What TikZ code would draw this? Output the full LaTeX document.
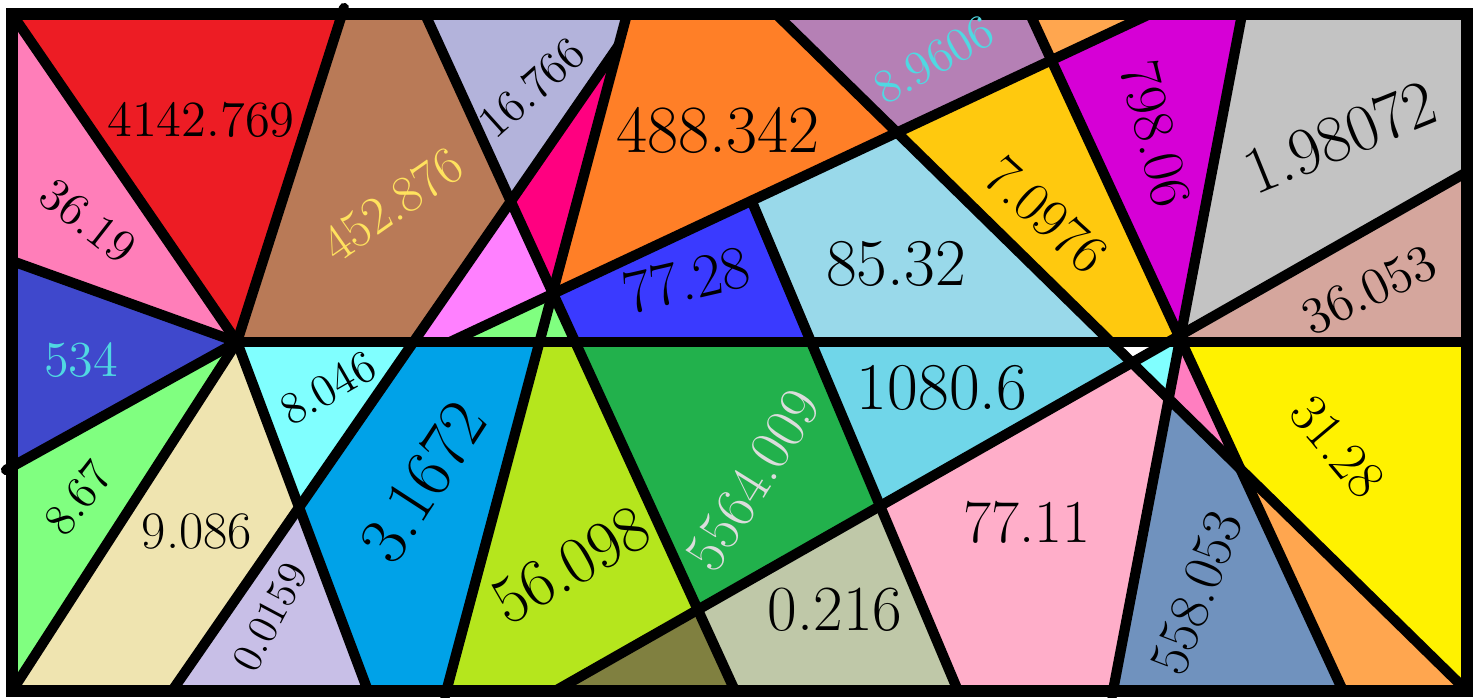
\documentclass[tikz,border=0pt]{standalone}
\usepackage{fontspec}

\definecolor{redA}{HTML}{ED1C24}
\definecolor{pinkA}{HTML}{FF7EB9}
\definecolor{blueA}{HTML}{3F48CC}
\definecolor{greenA}{HTML}{80FF80}
\definecolor{beige}{HTML}{EFE4B0}
\definecolor{cyanA}{HTML}{80FFFF}
\definecolor{lavB}{HTML}{C8BFE7}
\definecolor{blueB}{HTML}{00A2E8}
\definecolor{brown}{HTML}{B97A57}
\definecolor{lavA}{HTML}{B3B3DB}
\definecolor{hotpink}{HTML}{FF0080}
\definecolor{lmag}{HTML}{FF80FF}
\definecolor{orangeA}{HTML}{FF7F27}
\definecolor{blueC}{HTML}{3A3AFF}
\definecolor{lblue}{HTML}{99D9EA}
\definecolor{purpleA}{HTML}{B580B5}
\definecolor{lorange}{HTML}{FFA64F}
\definecolor{magentaA}{HTML}{D600D6}
\definecolor{gold}{HTML}{FFC90E}
\definecolor{grayA}{HTML}{C3C3C3}
\definecolor{rose}{HTML}{D5A69D}
\definecolor{lime}{HTML}{B5E61D}
\definecolor{greenB}{HTML}{22B14C}
\definecolor{olive}{HTML}{808040}
\definecolor{sage}{HTML}{BFC8A8}
\definecolor{sky}{HTML}{70D6E9}
\definecolor{pinkB}{HTML}{FF7EC0}
\definecolor{pinkC}{HTML}{FFAEC9}
\definecolor{slate}{HTML}{7092BE}
\definecolor{yellowA}{HTML}{FFF200}
\definecolor{txtcyan}{HTML}{50D8E2}
\definecolor{txtyellow}{HTML}{FFE25E}
\definecolor{txtgray}{HTML}{DCDCDC}

\newcommand{\lblsize}[1]{\fontsize{#1}{#1}\selectfont}

\begin{document}
\begin{tikzpicture}[x=0.01cm,y=-0.01cm,
    edge/.style={line width=2.9pt,line cap=round},
    num/.style={inner sep=0pt}]
    \useasboundingbox (0,0) rectangle (1480,698);

    % Frame and line ends
    \coordinate (TL) at (12,14);
    \coordinate (TR) at (1467,14);
    \coordinate (BL) at (12,691);
    \coordinate (BR) at (1467,691);
    \coordinate (Mr) at (1467,342);
    \coordinate (P1) at (237,342);
    \coordinate (L2t) at (344,8);
    \coordinate (L3l) at (12,261);
    \coordinate (L4l) at (6,470);
    \coordinate (L6b) at (368,691);
    \coordinate (At) at (425,14);
    \coordinate (Ab) at (735,691);
    \coordinate (Bt) at (619,45);
    \coordinate (Bb) at (172,691);
    \coordinate (Ct) at (627,14);
    \coordinate (Cb) at (445,696);
    \coordinate (Dl) at (450,342);
    \coordinate (Dt) at (1150,14);
    \coordinate (Et) at (751.5,200.7);
    \coordinate (Eb) at (958,691);
    \coordinate (Ft) at (776,14);
    \coordinate (Gt) at (1030,14);
    \coordinate (Gb) at (1343,691);
    \coordinate (Kt) at (1242,14);
    \coordinate (Kb) at (1112,696);
    \coordinate (Ir) at (1467,172);
    \coordinate (Ib) at (555,691);

    % Crossings
    \coordinate (P2) at (552,293);
    \coordinate (P3) at (1180.1,338.7);
    \coordinate (X1) at (510.7,201.1);
    \coordinate (BM) at (413.4,342);
    \coordinate (B6) at (299.1,507.4);
    \coordinate (CM) at (538.8,342);
    \coordinate (AM) at (575.2,342);
    \coordinate (AI) at (697.9,609.7);
    \coordinate (EM) at (811,342);
    \coordinate (EI) at (880,506);
    \coordinate (DF) at (897,132.5);
    \coordinate (DG) at (1051.4,60.2);
    \coordinate (FM) at (1110.8,342);
    \coordinate (IM) at (1168.3,342);
    \coordinate (FI) at (1131.9,362.7);
    \coordinate (MK) at (1179.5,342);
    \coordinate (GM) at (1181.6,342);
    \coordinate (FK) at (1168.7,398.7);
    \coordinate (FG) at (1240.3,468.9);

    % Regions
    \fill[redA] (TL) -- (L2t) -- (P1) -- cycle;
    \fill[pinkA] (TL) -- (P1) -- (L3l) -- cycle;
    \fill[blueA] (L3l) -- (P1) -- (L4l) -- cycle;
    \fill[greenA] (L4l) -- (P1) -- (BL) -- cycle;
    \fill[beige] (P1) -- (B6) -- (Bb) -- (BL) -- cycle;
    \fill[cyanA] (P1) -- (BM) -- (B6) -- cycle;
    \fill[lavB] (B6) -- (L6b) -- (Bb) -- cycle;
    \fill[blueB] (BM) -- (CM) -- (Cb) -- (L6b) -- (B6) -- cycle;
    \fill[brown] (L2t) -- (At) -- (X1) -- (BM) -- (P1) -- cycle;
    \fill[lavA] (At) -- (Ct) -- (Bt) -- (X1) -- cycle;
    \fill[hotpink] (Bt) -- (P2) -- (X1) -- cycle;
    \fill[lmag] (X1) -- (P2) -- (Dl) -- (BM) -- cycle;
    \fill[greenA] (Dl) -- (P2) -- (AM) -- cycle;
    \fill[orangeA] (Ct) -- (Ft) -- (DF) -- (P2) -- cycle;
    \fill[blueC] (P2) -- (Et) -- (EM) -- (AM) -- cycle;
    \fill[lblue] (Et) -- (DF) -- (FM) -- (EM) -- cycle;
    \fill[purpleA] (Ft) -- (Gt) -- (DG) -- (DF) -- cycle;
    \fill[lorange] (Gt) -- (Dt) -- (DG) -- cycle;
    \fill[magentaA] (DG) -- (Dt) -- (Kt) -- (P3) -- cycle;
    \fill[gold] (DF) -- (DG) -- (P3) -- (GM) -- (FM) -- cycle;
    \fill[grayA] (Kt) -- (TR) -- (Ir) -- (P3) -- cycle;
    \fill[rose] (P3) -- (Ir) -- (Mr) -- (GM) -- cycle;
    \fill[lime] (CM) -- (AM) -- (AI) -- (Ib) -- (Cb) -- cycle;
    \fill[greenB] (AM) -- (EM) -- (EI) -- (AI) -- cycle;
    \fill[olive] (Ib) -- (AI) -- (Ab) -- cycle;
    \fill[sage] (AI) -- (EI) -- (Eb) -- (Ab) -- cycle;
    \fill[sky] (EM) -- (FM) -- (FI) -- (EI) -- cycle;
    \fill[cyanA] (FI) -- (IM) -- (MK) -- (FK) -- cycle;
    \fill[pinkB] (MK) -- (GM) -- (FG) -- (FK) -- cycle;
    \fill[pinkC] (EI) -- (FI) -- (FK) -- (Kb) -- (Eb) -- cycle;
    \fill[slate] (FK) -- (FG) -- (Gb) -- (Kb) -- cycle;
    \fill[lorange] (FG) -- (BR) -- (Gb) -- cycle;
    \fill[yellowA] (GM) -- (Mr) -- (BR) -- (FG) -- cycle;

    % Lines
    \draw[edge] (TL) -- (P1);
    \draw[edge] (L2t) -- (P1);
    \draw[edge] (L3l) -- (P1);
    \draw[edge] (L4l) -- (P1);
    \draw[edge] (P1) -- (BL);
    \draw[edge] (P1) -- (L6b);
    \draw[edge] (P1) -- (Mr);
    \draw[edge] (At) -- (Ab);
    \draw[edge] (Bt) -- (Bb);
    \draw[edge] (Ct) -- (Cb);
    \draw[edge] (Dl) -- (Dt);
    \draw[edge] (Et) -- (Eb);
    \draw[edge] (Ft) -- (BR);
    \draw[edge] (Gt) -- (Gb);
    \draw[edge] (Kt) -- (Kb);
    \draw[edge] (Ir) -- (Ib);
    \draw[line width=3.4pt] (TL) rectangle (BR);

    % Numbers
    \node[num, font={\lblsize{14.4}}] (n4142) at (201,120) {4142.769};
    \node[num, font={\lblsize{13.5}}, rotate=-38] (n3619) at (88,221) {36.19};
    \node[num, font={\lblsize{14.3}}, text=txtcyan] (n534) at (81,360) {534};
    \node[num, font={\lblsize{15}}, text=txtyellow, rotate=35] (n452) at (392,205) {452.876};
    \node[num, font={\lblsize{13}}, rotate=42] (n16766) at (532,88) {16.766};
    \node[num, font={\lblsize{19.2}}] (n488) at (718,130) {488.342};
    \node[num, font={\lblsize{13.6}}, text=txtcyan, rotate=30] (n89606) at (934,60) {8.9606};
    \node[num, font={\lblsize{16.5}}, rotate=-76] (n798) at (1156,134) {798.06};
    \node[num, font={\lblsize{19}}, rotate=22] (n198) at (1340,137) {1.98072};
    \node[num, font={\lblsize{16}}, rotate=-42] (n70976) at (1046,215) {7.0976};
    \node[num, font={\lblsize{19}}] (n8532) at (896,264) {85.32};
    \node[num, font={\lblsize{17.5}}, rotate=13] (n7728) at (686,280) {77.28};
    \node[num, font={\lblsize{14.8}}, rotate=26] (n36053) at (1369,290) {36.053};
    \node[num, font={\lblsize{13}}, rotate=30] (n8046) at (328,388) {8.046};
    \node[num, font={\lblsize{19.5}}, rotate=57] (n31672) at (423,482) {3.1672};
    \node[num, font={\lblsize{19}}] (n1080) at (942,388) {1080.6};
    \node[num, font={\lblsize{15.5}}, rotate=-50] (n3128) at (1337,447) {31.28};
    \node[num, font={\lblsize{13}}, rotate=52] (n867) at (78,498) {8.67};
    \node[num, font={\lblsize{15}}, rotate=0] (n9086) at (197,531) {9.086};
    \node[num, font={\lblsize{12}}, rotate=62] (n00159) at (270,617) {0.0159};
    \node[num, font={\lblsize{19}}, rotate=30] (n56098) at (571,565) {56.098};
    \node[num, font={\lblsize{16.5}}, text=txtgray, rotate=58] (n5564) at (753,480) {5564.009};
    \node[num, font={\lblsize{18.3}}] (n0216) at (835,610) {0.216};
    \node[num, font={\lblsize{17.3}}] (n7711) at (1027,522) {77.11};
    \node[num, font={\lblsize{16}}, rotate=69] (n558) at (1197,593) {558.053};
\end{tikzpicture}
\end{document}
